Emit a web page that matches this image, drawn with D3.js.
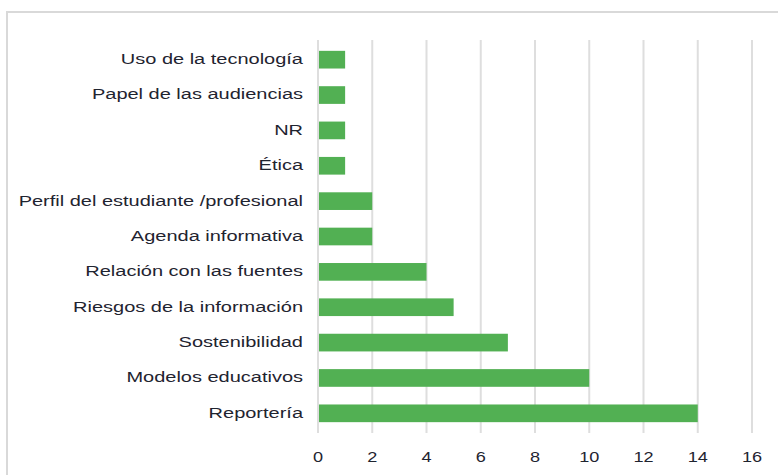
<!DOCTYPE html>
<html><head><meta charset="utf-8">
<script src="https://cdn.jsdelivr.net/npm/d3@7"></script>
<style>body{margin:0;background:#fff;}svg{display:block;}</style>
</head><body>
<svg id="c" width="778" height="475"></svg>
<script>
const categories = ["Uso de la tecnología","Papel de las audiencias","NR","Ética","Perfil del estudiante /profesional","Agenda informativa","Relación con las fuentes","Riesgos de la información","Sostenibilidad","Modelos educativos","Reportería"];
const values = [1,1,1,1,2,2,4,5,7,10,14];
const tickValues = [0,2,4,6,8,10,12,14,16];

const svg = d3.select("#c");
// outer frame
svg.append("rect").attr("x",7).attr("y",12).attr("width",790).attr("height",480)
  .attr("fill","none").attr("stroke","#d9d9d9").attr("stroke-width",2);

const x = d3.scaleLinear().domain([0,16]).range([318,752]);
const y = d3.scaleBand().domain(categories).range([42,431]).paddingInner(0.5).paddingOuter(0.25);

// gridlines
svg.append("g").selectAll("line").data(tickValues).join("line")
  .attr("x1",d=>x(d)).attr("x2",d=>x(d)).attr("y1",40).attr("y2",433)
  .attr("stroke","#dedede").attr("stroke-width",2);

svg.append("g").selectAll("rect").data(values).join("rect")
  .attr("x",x(0)+1).attr("y",(d,i)=>y(categories[i]))
  .attr("width",d=>x(d)-x(0)-1).attr("height",y.bandwidth())
  .attr("fill","#52b053");

const font = "'Liberation Sans', Arial, sans-serif";
svg.append("g").selectAll("text").data(categories).join("text")
  .attr("transform",d=>`translate(303,${y(d)+y.bandwidth()/2 - 1}) scale(1.29,1)`)
  .attr("dy","0.35em")
  .attr("text-anchor","end").attr("font-family",font).attr("font-size",15.5)
  .attr("fill","#1f2430").text(d=>d);

svg.append("g").selectAll("text").data(tickValues).join("text")
  .attr("transform",d=>`translate(${x(d)},462) scale(1.17,1)`)
  .attr("text-anchor","middle")
  .attr("font-family",font).attr("font-size",15.5).attr("fill","#1f2430").text(d=>d);
</script>
</body></html>
